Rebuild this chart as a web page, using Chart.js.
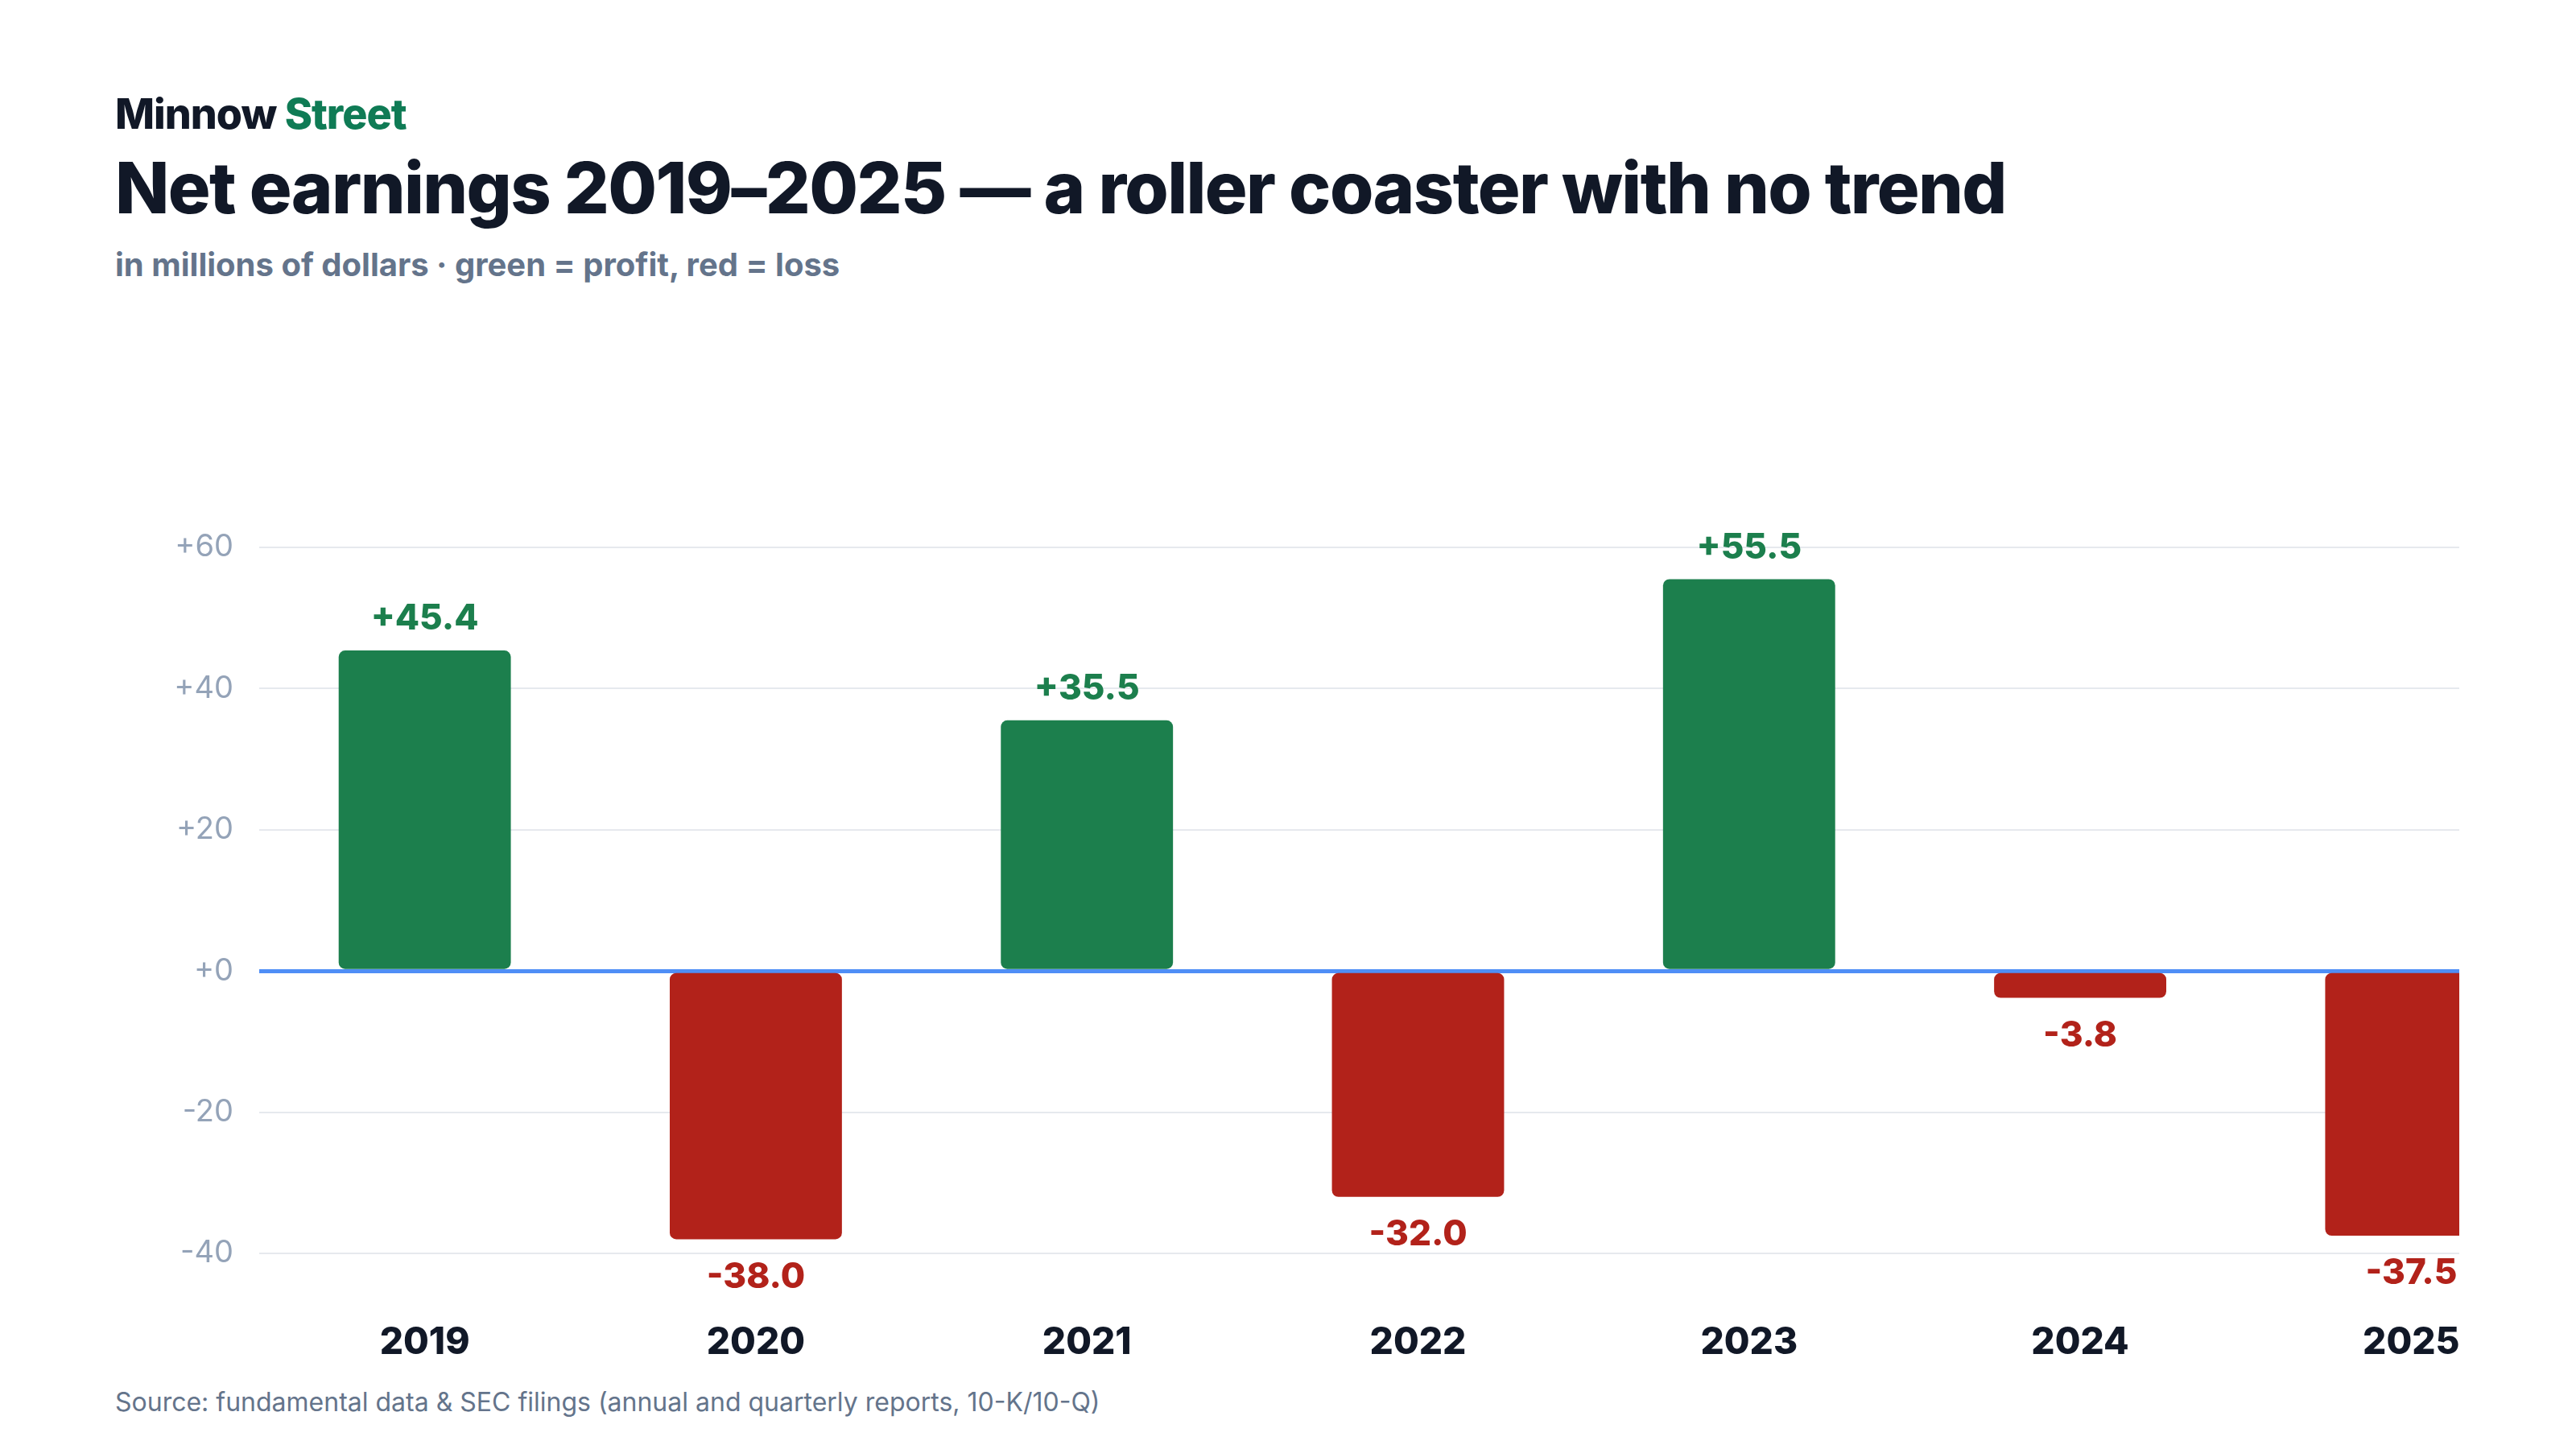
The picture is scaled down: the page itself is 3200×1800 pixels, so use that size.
<!DOCTYPE html>
<html>
<head>
<meta charset="utf-8">
<script src="https://cdn.jsdelivr.net/npm/chart.js@4.4.1/dist/chart.umd.min.js"></script>
<style>
    html, body { margin: 0; padding: 0; background: #fff; }
    body { width: 3200px; height: 1800px; position: relative; overflow: hidden; font-family: Inter, "Noto Sans", sans-serif; }
    .brand { position: absolute; left: 143px; top: 110px; font-size: 52px; font-weight: 800; color: #111827; letter-spacing: -1px; }
    .brand span { color: #0f7b55; }
    .title { position: absolute; left: 143px; top: 180px; font-size: 88px; font-weight: 800; color: #111827; letter-spacing: -1.6px; }
    .subtitle { position: absolute; left: 143px; top: 304px; font-size: 40px; font-weight: 700; color: #64748b; }
    .source { position: absolute; left: 143px; top: 1722px; font-size: 32px; color: #64748b; }
    .clip { position: absolute; left: 145px; top: 600px; width: 2910px; height: 1110px; overflow: hidden; }
    .inner { position: absolute; left: 0; top: 0; width: 3056px; height: 1110px; }
</style>
</head>
<body>
<div class="brand">Minnow <span>Street</span></div>
<div class="title">Net earnings 2019–2025 — a roller coaster with no trend</div>
<div class="subtitle">in millions of dollars · green = profit, red = loss</div>
<div class="clip"><div class="inner"><canvas id="earningsChart"></canvas></div></div>
<div class="source">Source: fundamental data &amp; SEC filings (annual and quarterly reports, 10-K/10-Q)</div>

<script>
// Data
const years = ['2019', '2020', '2021', '2022', '2023', '2024', '2025'];
const netEarnings = [45.4, -38.0, 35.5, -32.0, 55.5, -3.8, -37.5];
const yTicks = [-40, -20, 0, 20, 40, 60];

const green = '#1c7f4d';
const red = '#b2221a';

// Label each bar with its signed value
const valueLabels = {
    id: 'valueLabels',
    afterDatasetsDraw(chart) {
        const ctx = chart.ctx;
        const meta = chart.getDatasetMeta(0);
        ctx.save();
        ctx.font = '800 44px Inter';
        ctx.textAlign = 'center';
        ctx.textBaseline = 'middle';
        meta.data.forEach(function(bar, i) {
            const v = netEarnings[i];
            const text = (v >= 0 ? '+' : '') + v.toFixed(1);
            ctx.fillStyle = v >= 0 ? green : red;
            const y = v >= 0 ? bar.y - 39 : bar.y + 47;
            ctx.fillText(text, bar.x, y);
        });
        ctx.restore();
    }
};

const ctx = document.getElementById('earningsChart').getContext('2d');
new Chart(ctx, {
    type: 'bar',
    data: {
        labels: years,
        datasets: [{
            data: netEarnings,
            backgroundColor: netEarnings.map(v => v >= 0 ? green : red),
            borderRadius: 8,
            borderSkipped: false,
            barPercentage: 0.52,
            categoryPercentage: 1
        }]
    },
    options: {
        responsive: true,
        maintainAspectRatio: false,
        animation: false,
        devicePixelRatio: 1,
        layout: { padding: { top: 80, right: 0, bottom: 0, left: 0 } },
        plugins: {
            legend: { display: false },
            tooltip: { enabled: false }
        },
        scales: {
            x: {
                grid: { display: false },
                border: { display: false },
                ticks: {
                    color: '#111827',
                    padding: 76,
                    font: { family: 'Inter', size: 46, weight: '800' }
                },
                afterFit: function(scale) { scale.height = 153; }
            },
            y: {
                min: -40,
                max: 60,
                afterBuildTicks: function(scale) {
                    scale.ticks = yTicks.map(v => ({ value: v }));
                },
                grid: {
                    drawTicks: false,
                    color: c => c.tick && c.tick.value === 0 ? '#4f8ef6' : '#e6e9ee',
                    lineWidth: c => c.tick && c.tick.value === 0 ? 5 : 2
                },
                border: { display: false },
                ticks: {
                    color: '#94a3b8',
                    padding: 32,
                    font: { family: 'Inter', size: 38 },
                    callback: v => (v >= 0 ? '+' : '') + v
                },
                afterFit: function(scale) { scale.width = 177; }
            }
        }
    },
    plugins: [valueLabels]
});
</script>
</body>
</html>
